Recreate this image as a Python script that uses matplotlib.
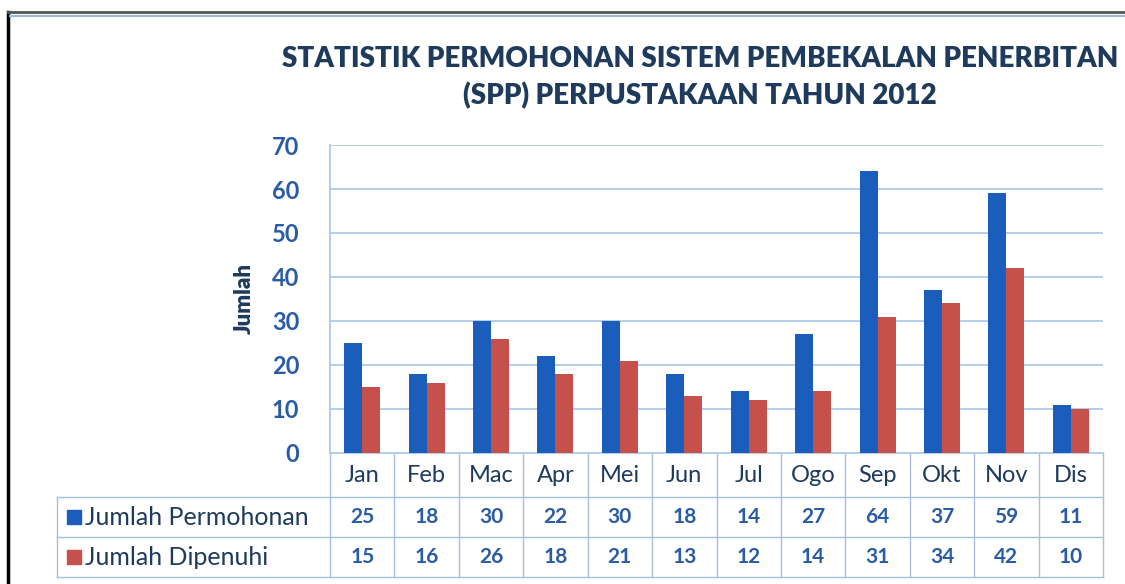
import matplotlib.pyplot as plt
import matplotlib.transforms as mtransforms
from matplotlib.lines import Line2D
import numpy as np

plt.rcParams['font.family'] = ['Lato', 'DejaVu Sans']

# data
months = ['Jan', 'Feb', 'Mac', 'Apr', 'Mei', 'Jun', 'Jul', 'Ogo', 'Sep', 'Okt', 'Nov', 'Dis']
permohonan = [25, 18, 30, 22, 30, 18, 14, 27, 64, 37, 59, 11]
dipenuhi = [15, 16, 26, 18, 21, 13, 12, 14, 31, 34, 42, 10]
series_names = ['Jumlah Permohonan', 'Jumlah Dipenuhi']
y_ticks = [0, 10, 20, 30, 40, 50, 60, 70]

blue = '#1A5DBA'
red = '#C6504B'
grid_col = '#B3CDEB'
navy = '#1E3A5C'
tick_blue = '#2A5CA6'

W, H = 1125, 584
fig = plt.figure(figsize=(W / 100, H / 100), dpi=100)
ax = fig.add_axes([330 / W, (H - 453) / H, (1103 - 330) / W, (453 - 145) / H])

x = np.arange(len(months))
bw = 0.28
ax.bar(x - bw / 2, permohonan, width=bw, color=blue, zorder=3)
ax.bar(x + bw / 2, dipenuhi, width=bw, color=red, zorder=3)

ax.set_xlim(-0.5, len(months) - 0.5)
ax.set_ylim(0, 70)
ax.set_yticks(y_ticks)
ax.set_yticklabels([str(t) for t in y_ticks], fontsize=17, fontweight='bold', color=tick_blue)
ax.tick_params(axis='y', length=0, pad=22)
ax.set_xticks([])
ax.grid(axis='y', color=grid_col, linewidth=1.4, zorder=0)
for s in ['top', 'right']:
    ax.spines[s].set_visible(False)
ax.spines['left'].set_color(grid_col)
ax.spines['bottom'].set_color(grid_col)
ax.spines['left'].set_linewidth(1.4)
ax.spines['bottom'].set_linewidth(1.4)

ax.set_ylabel('Jumlah', fontsize=16, fontweight='heavy', color=navy, labelpad=12)

# data table under the axis
trans = mtransforms.blended_transform_factory(ax.transData, ax.transAxes)
row_edges = [0, -0.143, -0.273, -0.403]
legend_left = -0.353
tcol = '#A5BEDC'

for i, m in enumerate(months):
    ax.text(i, (row_edges[0] + row_edges[1]) / 2, m, transform=trans, ha='center', va='center',
            fontsize=17, color=navy, clip_on=False)
    ax.text(i, (row_edges[1] + row_edges[2]) / 2, str(permohonan[i]), transform=trans, ha='center',
            va='center', fontsize=15, fontweight='bold', color=tick_blue, clip_on=False)
    ax.text(i, (row_edges[2] + row_edges[3]) / 2, str(dipenuhi[i]), transform=trans, ha='center',
            va='center', fontsize=15, fontweight='bold', color=tick_blue, clip_on=False)

# vertical cell borders
for b in np.arange(-0.5, len(months)):
    ax.add_line(Line2D([b, b], [row_edges[0], row_edges[3]], transform=trans, color=tcol,
                       linewidth=1.0, clip_on=False))
# horizontal borders
ax_trans = ax.transAxes
for r in row_edges[1:]:
    ax.add_line(Line2D([legend_left, 1.0], [r, r], transform=ax_trans, color=tcol,
                       linewidth=1.0, clip_on=False))
ax.add_line(Line2D([legend_left, legend_left], [row_edges[1], row_edges[3]], transform=ax_trans,
                   color=tcol, linewidth=1.0, clip_on=False))

# legend keys in table rows
for k, (name, col) in enumerate(zip(series_names, [blue, red])):
    yc = (row_edges[k + 1] + row_edges[k + 2]) / 2
    ax.scatter([legend_left + 0.022], [yc], marker='s', s=90, color=col, transform=ax_trans,
               clip_on=False, zorder=4)
    ax.text(legend_left + 0.036, yc, name, transform=ax_trans, ha='left', va='center',
            fontsize=18, color=navy, clip_on=False)

fig.text(700 / W, 1 - 78 / H,
         'STATISTIK PERMOHONAN SISTEM PEMBEKALAN PENERBITAN\n(SPP) PERPUSTAKAAN TAHUN 2012',
         ha='center', va='center', fontsize=20, fontweight='heavy', color=navy, linespacing=1.45)

# chart frame
fig.add_artist(Line2D([8 / W, 8 / W], [0, 1 - 12 / H], color='black', linewidth=2.5))
fig.add_artist(Line2D([8 / W, 1], [1 - 12 / H, 1 - 12 / H], color='#555555', linewidth=2.0))
fig.add_artist(Line2D([10 / W, 1], [1 - 16 / H, 1 - 16 / H], color='#9BB8DC', linewidth=1.5))

fig.savefig('out.png', dpi=100)
